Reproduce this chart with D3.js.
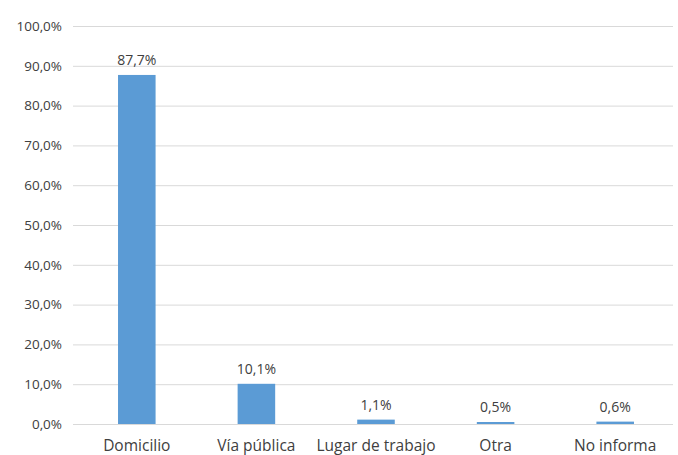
<!DOCTYPE html>
<html><head><meta charset="utf-8">
<script src="https://cdn.jsdelivr.net/npm/d3@7"></script>
<style>body{margin:0;background:#fff}svg{display:block}</style>
</head><body>
<script>
const categories = ["Domicilio", "Vía pública", "Lugar de trabajo", "Otra", "No informa"];
const values = [87.7, 10.1, 1.1, 0.5, 0.6];
const yTicks = [0, 10, 20, 30, 40, 50, 60, 70, 80, 90, 100];

const W = 678, H = 455;
const svg = d3.select("body").append("svg").attr("width", W).attr("height", H);
const x = d3.scaleBand().domain(categories).range([77, 675]).paddingInner(0.686).paddingOuter(0.343);
const y = d3.scaleLinear().domain([0, 100]).range([424, 26]);
const fmt = v => v.toFixed(1).replace(".", ",") + "%";
const font = "Open Sans, Liberation Sans, sans-serif";

svg.append("g").selectAll("line").data(yTicks).join("line")
  .attr("x1", 73).attr("x2", 673)
  .attr("y1", d => y(d) + 0.5).attr("y2", d => y(d) + 0.5)
  .attr("stroke", "#d9d9d9").attr("stroke-width", 1);

svg.append("g").selectAll("text").data(yTicks).join("text")
  .attr("x", 62).attr("y", d => y(d)).attr("dy", "0.35em")
  .attr("text-anchor", "end").attr("font-family", font).attr("font-size", 13.5)
  .attr("fill", "#404040").text(d => fmt(d));

svg.append("g").selectAll("rect").data(values).join("rect")
  .attr("x", (d, i) => x(categories[i])).attr("width", x.bandwidth())
  .attr("y", d => y(d)).attr("height", d => Math.max(1.5, y(0) - y(d)))
  .attr("fill", "#5b9bd5");

svg.append("g").selectAll("text").data(values).join("text")
  .attr("x", (d, i) => x(categories[i]) + x.bandwidth() / 2)
  .attr("y", d => y(d) - 10).attr("text-anchor", "middle")
  .attr("font-family", font).attr("font-size", 14).attr("fill", "#404040")
  .text(d => fmt(d));

svg.append("g").selectAll("text").data(categories).join("text")
  .attr("x", d => x(d) + x.bandwidth() / 2).attr("y", 451)
  .attr("text-anchor", "middle").attr("font-family", font).attr("font-size", 15.5)
  .attr("fill", "#404040").text(d => d);
</script>
</body></html>
